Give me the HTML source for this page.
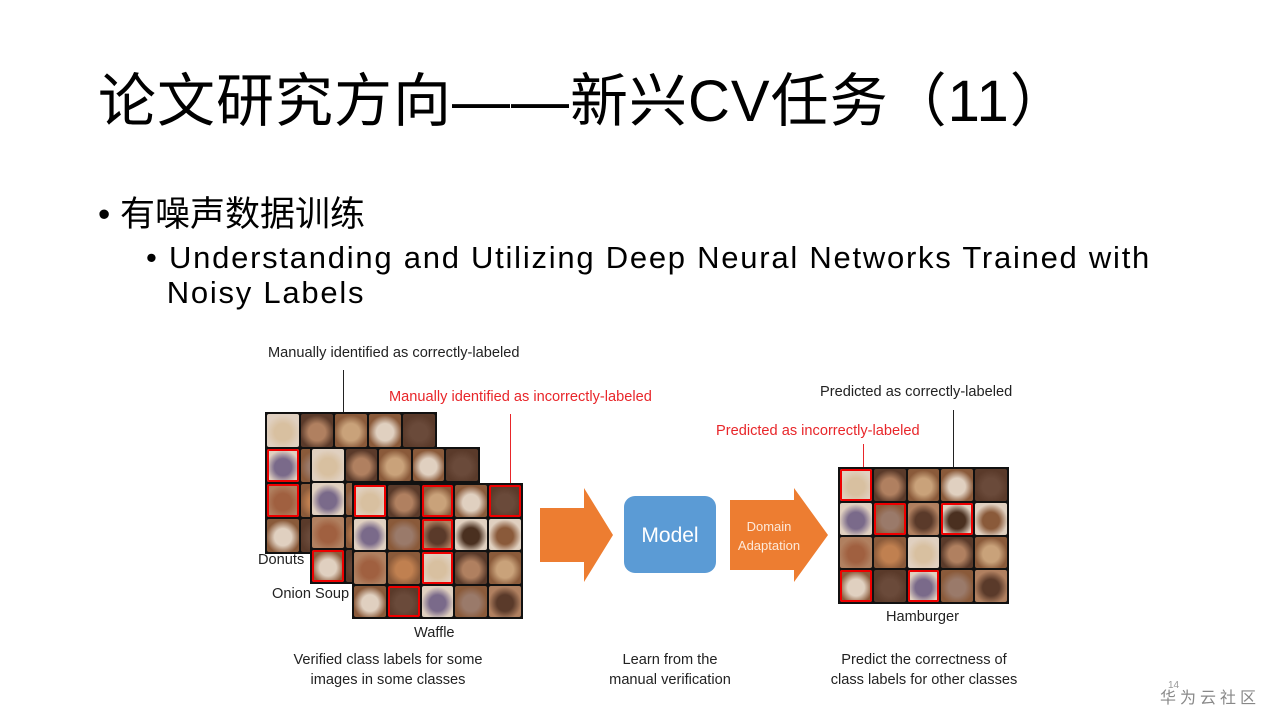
<!DOCTYPE html>
<html><head><meta charset="utf-8"><style>
*{margin:0;padding:0;box-sizing:border-box}
body{width:1280px;height:720px;background:#fff;position:relative;overflow:hidden;font-family:"Liberation Sans","Noto Sans CJK SC",sans-serif;color:#000}
.a{position:absolute;white-space:nowrap}
.title{left:98px;top:64px;font-size:58px;line-height:76px;letter-spacing:1px}
.b1{left:98px;top:192px;font-size:35px;line-height:46px}
.b2{left:146px;top:240px;font-size:31px;line-height:35px;letter-spacing:1.75px}
.sm{font-size:14.6px;line-height:16px}
.red{color:#e8262a}
.grid{position:absolute;background:#111;border:2px solid #111;display:grid;grid-template-columns:repeat(5,1fr);grid-template-rows:repeat(4,1fr);gap:2px}
.grid div{border-radius:2px}
.grid div.r{outline:2px solid #e00;outline-offset:-2px}
.vl{position:absolute;width:1px}
.cap{position:absolute;font-size:14.6px;line-height:20px;color:#222;text-align:center;white-space:nowrap}
</style></head><body>
<div class="a title">论文研究方向——新兴CV任务（11）</div>
<div class="a b1">• 有噪声数据训练</div>
<div class="a b2">• Understanding and Utilizing Deep Neural Networks Trained with<br>&nbsp;&nbsp;Noisy Labels</div>

<div class="a sm" style="left:268px;top:345px;color:#222">Manually identified as correctly-labeled</div>
<div class="vl" style="left:343px;top:370px;height:42px;background:#222"></div>
<div class="a sm red" style="left:389px;top:389px">Manually identified as incorrectly-labeled</div>
<div class="vl" style="left:510px;top:414px;height:70px;background:#e8262a"></div>

<div class="grid" id="g1" style="left:265px;top:412px;width:172px;height:142px"></div>
<div class="grid" id="g2" style="left:310px;top:447px;width:170px;height:137px"></div>
<div class="grid" id="g3" style="left:352px;top:483px;width:171px;height:136px"></div>

<div class="a sm" style="left:258px;top:552px;color:#222">Donuts</div>
<div class="a sm" style="left:272px;top:586px;color:#222">Onion Soup</div>
<div class="a sm" style="left:414px;top:625px;color:#222">Waffle</div>

<svg class="a" style="left:0;top:0" width="1280" height="720">
<polygon points="540,508 584,508 584,488 613,535 584,582 584,562 540,562" fill="#ed7d31"/>
<polygon points="730,500 794,500 794,488 828,535 794,582 794,570 730,570" fill="#ed7d31"/>
<rect x="624" y="496" width="92" height="77" rx="11" fill="#5b9bd5"/>
<text x="670" y="542" font-size="21" fill="#fff" text-anchor="middle" font-family="Liberation Sans">Model</text>
<text x="769" y="531" font-size="13" fill="#fde9d9" text-anchor="middle" font-family="Liberation Sans">Domain</text>
<text x="769" y="550" font-size="13" fill="#fde9d9" text-anchor="middle" font-family="Liberation Sans">Adaptation</text>
</svg>

<div class="a sm" style="left:820px;top:384px;color:#222">Predicted as correctly-labeled</div>
<div class="vl" style="left:953px;top:410px;height:58px;background:#222"></div>
<div class="a sm red" style="left:716px;top:423px">Predicted as incorrectly-labeled</div>
<div class="vl" style="left:863px;top:444px;height:24px;background:#e8262a"></div>
<div class="grid" id="g4" style="left:838px;top:467px;width:171px;height:137px"></div>
<div class="a sm" style="left:886px;top:609px;color:#222">Hamburger</div>

<div class="cap" style="left:278px;top:650px;width:220px">Verified class labels for some<br>images in some classes</div>
<div class="cap" style="left:590px;top:650px;width:160px">Learn from the<br>manual verification</div>
<div class="cap" style="left:814px;top:650px;width:220px">Predict the correctness of<br>class labels for other classes</div>

<div class="a" style="left:1168px;top:680px;font-size:10px;color:#999">14</div>
<div class="a" style="left:1160px;top:684px;font-size:16px;color:#888;letter-spacing:4px">华为云社区</div>

<script>
var pal=["#8a5a3a","#c9a27a","#5a3a2a","#d8c0a0","#7a6a8a","#a06040","#e0d0c0","#4a3020","#b08060","#9a7a6a","#c08050","#6a4a3a"];
function fill(id,reds){var g=document.getElementById(id);for(var i=0;i<20;i++){var d=document.createElement('div');var c1=pal[(i*7+id.length*3+i*i)%pal.length],c2=pal[(i*5+3)%pal.length];d.style.background="radial-gradient(circle at 50% 55%,"+c2+" 0,"+c2+" 35%,"+c1+" 70%)";if(reds.indexOf(i)>=0)d.className='r';g.appendChild(d);}}
fill('g1',[5,10]);fill('g2',[15]);fill('g3',[0,2,4,7,12,16]);fill('g4',[0,6,8,15,17]);
</script>
</body></html>
